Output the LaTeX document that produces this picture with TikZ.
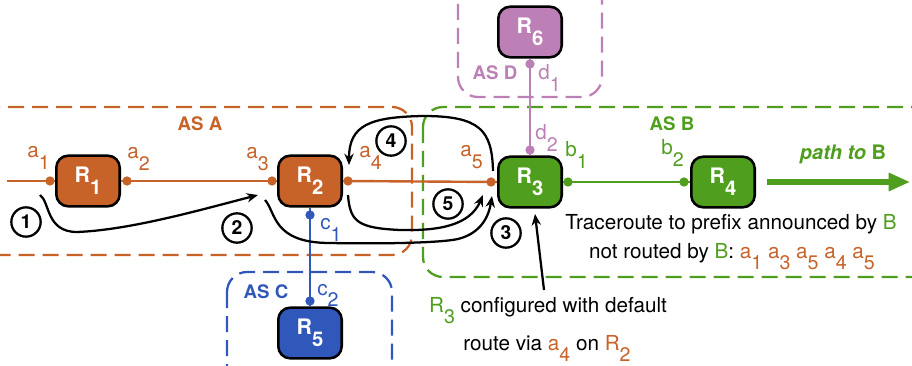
\documentclass[tikz,border=0pt]{standalone}
\usepackage{fontspec}
\setmainfont{TeX Gyre Heros}
\usepackage{graphicx}
\usetikzlibrary{arrows.meta}
\definecolor{orng}{RGB}{199,98,41}
\definecolor{grn}{RGB}{80,158,30}
\definecolor{blu}{RGB}{48,88,186}
\definecolor{prp}{RGB}{188,128,183}
\newcommand{\lsub}[1]{\raisebox{-0.55em}{\scalebox{0.95}{#1}}}
\begin{document}
\begin{tikzpicture}[x=0.75pt,y=-0.75pt,
 router/.style={draw=black, line width=1.9pt, rounded corners=9pt, minimum width=47.6pt, minimum height=38pt, inner sep=0pt, text=white, font=\fontsize{16}{16}\selectfont\bfseries},
 lbl/.style={font=\fontsize{15.5}{16}\selectfont, inner sep=0pt, anchor=base west},
 txt/.style={font=\fontsize{15.5}{18}\selectfont, inner sep=0pt, anchor=base},
 asbox/.style={line width=1.7pt, dash pattern=on 12pt off 6pt, rounded corners=15pt},
 aslbl/.style={font=\fontsize{14}{16}\selectfont\bfseries, inner sep=0pt},
 dot/.style={circle, fill, inner sep=0pt, minimum size=7pt},
 link/.style={line width=1.8pt},
 arr/.style={line width=1.7pt, -{Stealth[length=8.5pt,width=7pt]}},
 num/.style={circle, draw, fill=white, line width=1.7pt, minimum size=22pt, inner sep=0pt, font=\fontsize{14.5}{14}\selectfont\bfseries}
]
\useasboundingbox (0,0) rectangle (912,366);
\clip (0,0) rectangle (912,366);
% AS boxes
\draw[asbox, orng] (-30,107) rectangle (412,255);
\draw[asbox, grn] (423,107) rectangle (960,277);
\draw[asbox, prp] (458,-40) rectangle (602,97);
\draw[asbox, blu] (227,272) rectangle (392,420);
\node[aslbl, text=orng] (asA) at (200,124) {AS A};
\node[aslbl, text=grn] (asB) at (672,124) {AS B};
\node[aslbl, text=prp] (asD) at (495,73) {AS D};
\node[aslbl, text=blu] (asC) at (266,292) {AS C};
% routers
\node[router, fill=orng] (R1) at (88,181) {R\lsub{1}};
\node[router, fill=orng] (R2) at (310,181) {R\lsub{2}};
\node[router, fill=grn] (R3) at (530,182) {R\lsub{3}};
\node[router, fill=grn] (R4) at (723,182) {R\lsub{4}};
\node[router, fill=prp] (R6) at (530,32) {R\lsub{6}};
\node[router, fill=blu] (R5) at (310,333) {R\lsub{5}};
% links
\coordinate (L) at (7,181);
\draw[link, orng] (L) -- (R1.west);
\draw[link, orng] (R1.east) -- (R2.west);
\draw[link, orng] (R2.east) -- (R3.west);
\draw[link, grn] (R3.east) -- (R4.west);
\draw[link, prp] (R6.south) -- (R3.north);
\draw[link, blu] (R2.south) -- (R5.north);
% dots
\node[dot, orng] (da1) at (50,181) {};
\node[dot, orng] (da2) at (127,181) {};
\node[dot, orng] (da3) at (272,181) {};
\node[dot, orng] (da4) at (348,181) {};
\node[dot, orng] (da5) at (491,182) {};
\node[dot, grn] (db1) at (568,182) {};
\node[dot, grn] (db2) at (684,182) {};
\node[dot, prp] (dd1) at (530,64) {};
\node[dot, prp] (dd2) at (530,150) {};
\node[dot, blu] (dc1) at (310,215) {};
\node[dot, blu] (dc2) at (310,301) {};
% interface labels
\node[lbl, text=orng] (la1) at (27,158) {a\lsub{1}};
\node[lbl, text=orng] (la2) at (127,159) {a\lsub{2}};
\node[lbl, text=orng] (la3) at (246,159) {a\lsub{3}};
\node[lbl, text=orng] (la4) at (359,158) {a\lsub{4}};
\node[lbl, text=orng] (la5) at (460,157) {a\lsub{5}};
\node[lbl, text=grn] (lb1) at (565,157) {b\lsub{1}};
\node[lbl, text=grn] (lb2) at (661,155) {b\lsub{2}};
\node[lbl, text=prp] (ld1) at (538,80) {d\lsub{1}};
\node[lbl, text=prp] (ld2) at (535,140) {d\lsub{2}};
\node[lbl, text=blu] (lc1) at (320,230) {c\lsub{1}};
\node[lbl, text=blu] (lc2) at (317,295) {c\lsub{2}};
% path to B
\coordinate (pend) at (910,182);
\draw[grn, line width=3.8pt, -{Triangle[length=16pt,width=13pt]}] ([xshift=8pt]R4.east) -- (pend);
\node[txt, text=grn, font=\fontsize{15}{16}\selectfont\bfseries] (ptb) at (843,160) {\textit{path to} B};
% traceroute curves
\coordinate (s1) at (40,195);
\coordinate (e1) at (258,195);
\coordinate (s2) at (265,200);
\coordinate (e2) at (492,196);
\coordinate (s3) at (348,195);
\coordinate (e3) at (483,195);
\coordinate (s4) at (493,171);
\coordinate (e4) at (349,165);
\draw[arr] (s1) .. controls (50,202) and (46,232) .. (77,232) .. controls (130,230) and (200,210) .. (e1);
\draw[arr] (s2) .. controls (276,212) and (272,243) .. (330,243) .. controls (380,244) and (440,243) .. (458,239) .. controls (482,233) and (489,215) .. (e2);
\draw[arr] (s3) .. controls (350,222) and (358,228) .. (400,230) .. controls (440,231) and (470,225) .. (e3);
\draw[arr] (s4) .. controls (492,130) and (480,116) .. (423,116) .. controls (370,117) and (349,125) .. (e4);
% circled numbers
\node[num] (n1) at (26,222) {1};
\node[num] (n2) at (237,228) {2};
\node[num] (n3) at (506,233) {3};
\node[num] (n4) at (391,141) {4};
\node[num] (n5) at (448,204) {5};
% texts
\node[txt] (t1) at (731,230) {Traceroute to prefix announced by \textcolor{grn}{B}};
\node[txt] (t2) at (732,258) {not routed by \textcolor{grn}{B}: \textcolor{orng}{a\lsub{1} a\lsub{3} a\lsub{5} a\lsub{4} a\lsub{5}}};
\node[txt] (t3) at (548,312) {\textcolor{grn}{R\lsub{3}} configured with default};
\node[txt] (t4) at (547,350) {route via \textcolor{orng}{a\lsub{4}} on \textcolor{orng}{R\lsub{2}}};
\coordinate (t3a) at (544,290);
\coordinate (r3b) at (535,214);
\draw[arr] (t3a) -- (r3b);
\end{tikzpicture}
\end{document}
